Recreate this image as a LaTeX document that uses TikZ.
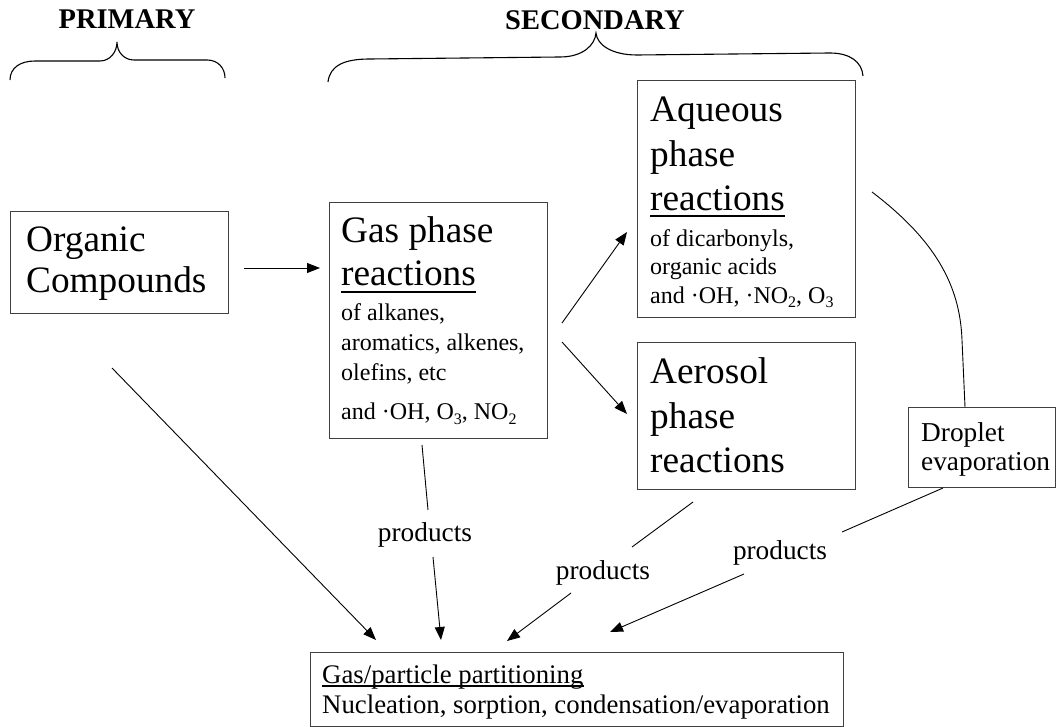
\documentclass[tikz,border=0pt]{standalone}
\usepackage{fontspec}
\setmainfont{Liberation Serif}
\usetikzlibrary{arrows.meta}
\newcommand\LgFont{\fontsize{37.3}{44}\selectfont}
\newcommand\MdFont{\fontsize{27.3}{32}\selectfont}
\newcommand\BtFont{\fontsize{26.8}{32}\selectfont}
\newcommand\SmFont{\fontsize{24}{29}\selectfont}
\newcommand\subsc[1]{\raisebox{-5pt}{\fontsize{16}{16}\selectfont #1}}
\tikzset{
  boxnode/.style={draw=black!75, line width=1.3pt, inner sep=0pt, anchor=north west},
  lg/.style={inner sep=0pt, anchor=base west, font=\LgFont},
  md/.style={inner sep=0pt, anchor=base west, font=\MdFont},
  bt/.style={inner sep=0pt, anchor=base west, font=\BtFont},
  sm/.style={inner sep=0pt, anchor=base west, font=\SmFont},
  lbl/.style={inner sep=0pt, font=\MdFont},
  hdr/.style={inner sep=0pt, font=\fontsize{28.5}{32}\selectfont\bfseries},
  conn/.style={line width=0.9pt},
  arr/.style={conn, -{Triangle[length=13pt,width=10pt]}},
  bracepath/.style={line width=1.1pt},
  uline/.style={line width=1.6pt}
}
\begin{document}
\begin{tikzpicture}[x=1pt,y=-1pt]
\useasboundingbox (0,0) rectangle (1057,727);

% headers and braces
\node[hdr] (prim) at (127,19.5) {PRIMARY};
\node[hdr] (sec) at (595,20) {SECONDARY};
\draw[bracepath] (10,80) .. controls (10,68) and (20,61) .. (35,61) -- (100,61)
  .. controls (110,61) and (117,52) .. (117,42)
  .. controls (117,52) and (124,60) .. (134,60) -- (207,60)
  .. controls (218,60) and (225,68) .. (225,78);
\draw[bracepath] (328,82) .. controls (330,65) and (345,59) .. (370,59) -- (560,57)
  .. controls (583,57) and (595,45) .. (596,33)
  .. controls (597,45) and (612,55) .. (637,55) -- (830,53)
  .. controls (850,53) and (862,62) .. (863,76);

% boxes
\node[boxnode, minimum width=218pt, minimum height=102pt] (org) at (10,211) {};
\node[boxnode, minimum width=218pt, minimum height=236pt] (gas) at (329,202) {};
\node[boxnode, minimum width=218pt, minimum height=237pt] (aq) at (637,80) {};
\node[boxnode, minimum width=218pt, minimum height=147pt] (aer) at (637,342) {};
\node[boxnode, minimum width=147pt, minimum height=80pt] (drop) at (908,407) {};
\node[boxnode, minimum width=533pt, minimum height=74pt] (bot) at (310,652) {};

% organic
\node[lg] (org1) at (26,252) {Organic};
\node[lg] (org2) at (26,292) {Compounds};

% gas phase
\node[lg] (gas1) at (341,243) {Gas phase};
\node[lg] (gas2) at (341,286) {reactions};
\draw[uline] ([yshift=-6pt]gas2.base west) -- ([yshift=-6pt]gas2.base east);
\node[sm] (gas3) at (341,320) {of alkanes,};
\node[sm] (gas4) at (341,350) {aromatics, alkenes,};
\node[sm] (gas5) at (341,380) {olefins, etc};
\node[sm] (gas6) at (341,419) {and ·OH, O\subsc{3}, NO\subsc{2}};

% aqueous
\node[lg] (aq1) at (650,122) {Aqueous};
\node[lg] (aq2) at (650,167) {phase};
\node[lg] (aq3) at (650,211) {reactions};
\draw[uline] ([yshift=-5pt]aq3.base west) -- ([yshift=-5pt]aq3.base east);
\node[sm] (aq4) at (650,247) {of dicarbonyls,};
\node[sm] (aq5) at (650,275) {organic acids};
\node[sm] (aq6) at (650,303) {and ·OH, ·NO\subsc{2}, O\subsc{3}};

% aerosol
\node[lg] (aer1) at (650,383) {Aerosol};
\node[lg] (aer2) at (650,428) {phase};
\node[lg] (aer3) at (650,472) {reactions};

% droplet
\node[md] (drop1) at (921,441) {Droplet};
\node[md] (drop2) at (921,470) {evaporation};

% bottom box
\node[bt] (bot1) at (322,683) {Gas/particle partitioning};
\draw[line width=1.2pt] ([yshift=-3pt]bot1.base west) -- ([yshift=-3pt]bot1.base east);
\node[bt] (bot2) at (322,713) {Nucleation, sorption, condensation/evaporation};

% product labels
\node[lbl] (p1) at (425,535) {products};
\node[lbl] (p2) at (603,573) {products};
\node[lbl] (p3) at (780,553) {products};

% connector end points
\coordinate (a1s) at (244,268); \coordinate (a1e) at (320,268);
\coordinate (a2s) at (562,323); \coordinate (a2e) at (627,232);
\coordinate (a3s) at (562,342); \coordinate (a3e) at (627,414);
\coordinate (a4s) at (112,368); \coordinate (a4e) at (376,640);
\coordinate (g1s) at (422,445); \coordinate (g1e) at (428,510);
\coordinate (g2s) at (433,557); \coordinate (g2e) at (441,640);
\coordinate (r1s) at (693,502); \coordinate (r1e) at (632,547);
\coordinate (r2s) at (571,593); \coordinate (r2e) at (507,641);
\coordinate (d1s) at (943,488); \coordinate (d1e) at (842,532);
\coordinate (d2s) at (744,574); \coordinate (d2e) at (610,632);
\coordinate (cs) at (872,192); \coordinate (ce) at (965,407);

\draw[arr] (a1s) -- (a1e);
\draw[arr] (a2s) -- (a2e);
\draw[arr] (a3s) -- (a3e);
\draw[arr] (a4s) -- (a4e);
\draw[conn] (g1s) -- (g1e);
\draw[arr] (g2s) -- (g2e);
\draw[conn] (r1s) -- (r1e);
\draw[arr] (r2s) -- (r2e);
\draw[conn] (d1s) -- (d1e);
\draw[arr] (d2s) -- (d2e);
\draw[conn] (cs) .. controls (935,240) and (960,285) .. (962,340) -- (ce);
\end{tikzpicture}
\end{document}
